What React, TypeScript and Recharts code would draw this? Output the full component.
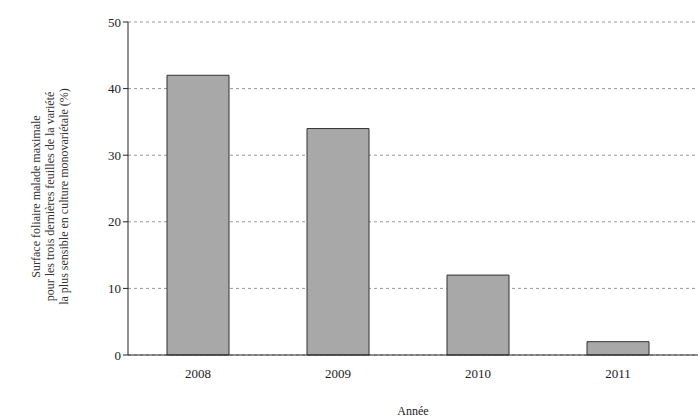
import { BarChart, Bar, XAxis, YAxis, CartesianGrid } from "recharts";

const years = ["2008", "2009", "2010", "2011"];
const surface = [42, 34, 12, 2];
const yTicks = [0, 10, 20, 30, 40, 50];
const yLabelLines = [
  "Surface foliaire malade maximale",
  "pour les trois dernières feuilles de la variété",
  "la plus sensible en culture monovariétale (%)",
];

const data = years.map((y, i) => ({ year: y, value: surface[i] }));
const font = "'Liberation Serif', 'DejaVu Serif', serif";

function YLabel(props: any) {
  const vb = props.viewBox || {};
  const cy = vb.y + vb.height / 2 + 8;
  return (
    <g>
      {yLabelLines.map((t, i) => (
        <text
          key={i}
          x={0}
          y={0}
          transform={`translate(${40 + i * 14}, ${cy}) rotate(-90)`}
          textAnchor="middle"
          fontSize={12}
          fontFamily={font}
          fill="#333"
        >
          {t}
        </text>
      ))}
    </g>
  );
}

export default function App() {
  return (
    <div style={{ position: "absolute", left: 0, top: 0, background: "#fff" }}>
      <BarChart
        width={698}
        height={419}
        data={data}
        margin={{ top: 22, right: 0, left: 0, bottom: 0 }}
        barSize={62}
        barCategoryGap={40}
      >
        <CartesianGrid vertical={false} strokeDasharray="3 3" stroke="#999" />
        <XAxis
          dataKey="year"
          height={64}
          stroke="#222"
          tickLine={false}
          padding={{ left: 0, right: 10 }}
          tick={{ fontSize: 13, fill: "#222", fontFamily: font }}
          tickMargin={8}
          label={{ value: "Année", position: "insideBottom", offset: 4, fontSize: 12, fill: "#222", fontFamily: font }}
        />
        <YAxis
          width={128}
          domain={[0, 50]}
          ticks={yTicks}
          stroke="#222"
          tickSize={5}
          tick={{ fontSize: 13, fill: "#222", fontFamily: font }}
          label={<YLabel />}
        />
        <Bar dataKey="value" fill="#a8a8a8" stroke="#333" strokeWidth={1} isAnimationActive={false} />
      </BarChart>
    </div>
  );
}
